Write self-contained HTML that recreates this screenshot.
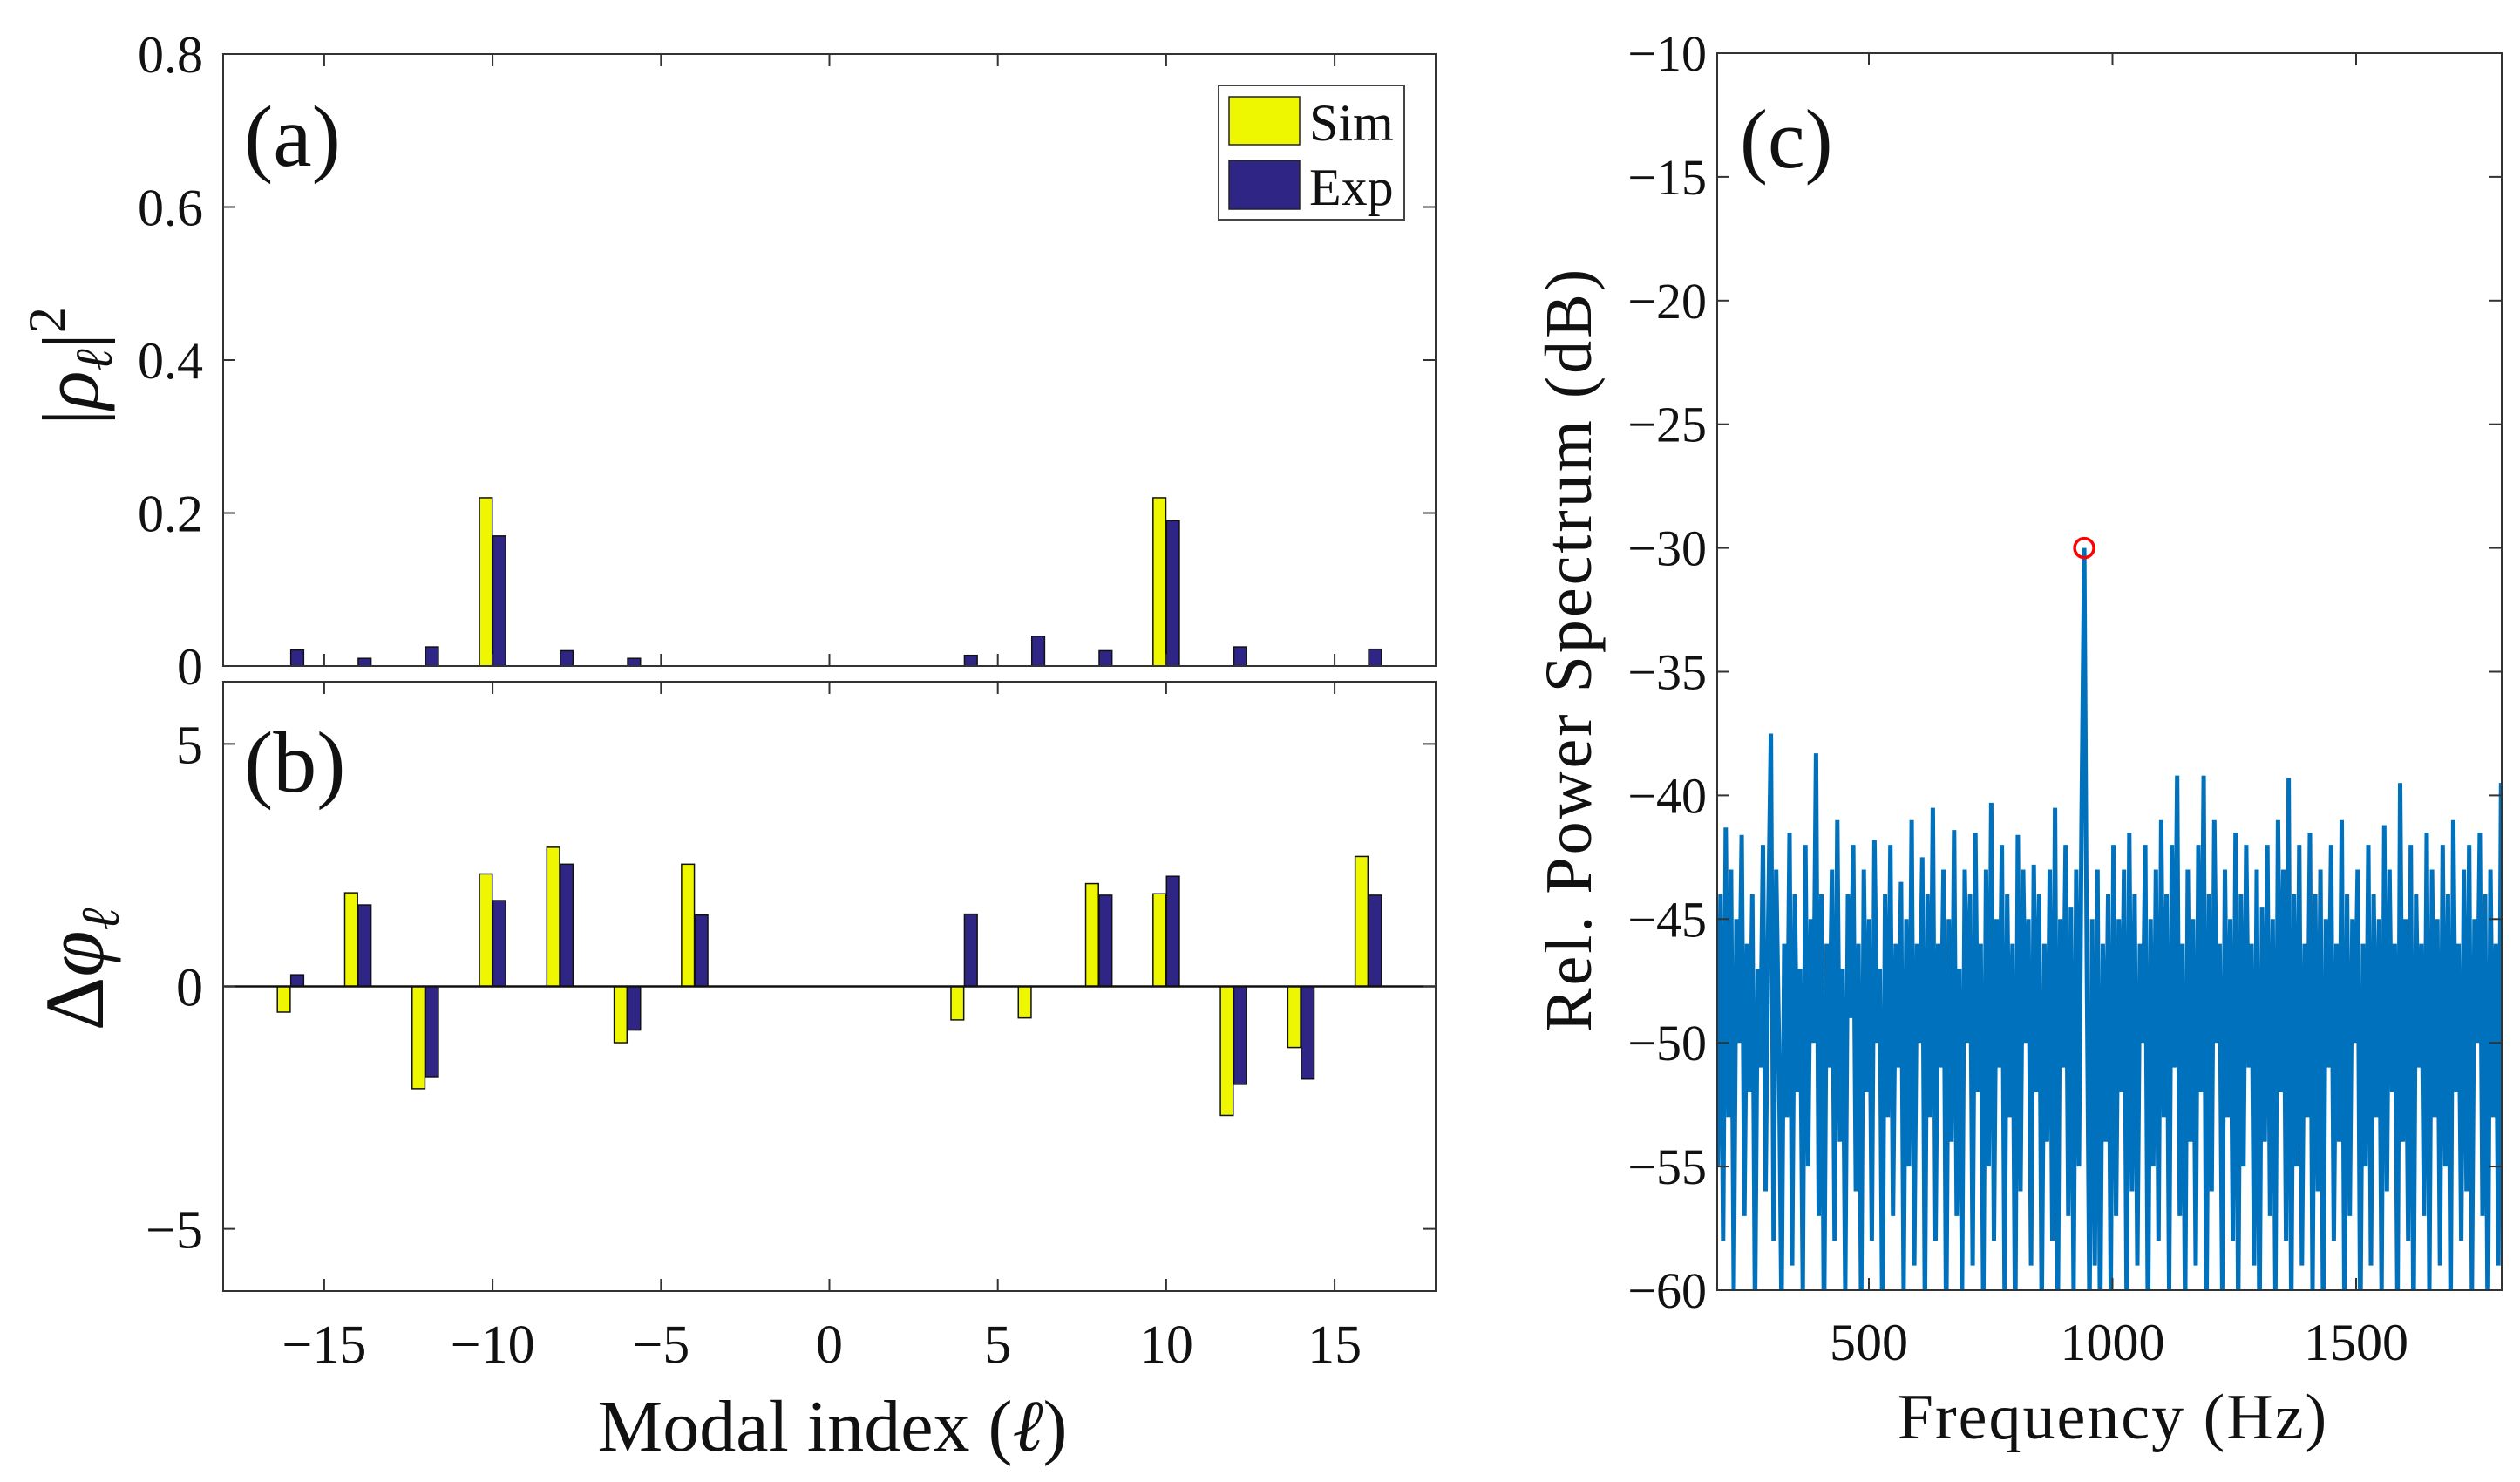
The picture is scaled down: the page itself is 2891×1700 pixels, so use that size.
<!DOCTYPE html>
<html><head><meta charset="utf-8">
<style>
html,body{margin:0;padding:0;background:#fff;}
svg{display:block;font-family:"Liberation Serif","DejaVu Serif",serif;}
</style></head>
<body>
<svg id="fig" width="2891" height="1700" viewBox="0 0 2891 1700" xmlns="http://www.w3.org/2000/svg">
<defs>
<clipPath id="clipC"><rect x="1970" y="61" width="900" height="1419"/></clipPath>
</defs>
<rect x="0" y="0" width="2891" height="1700" fill="#fff"/>
<g id="pa"></g>
<g id="pb"></g>
<g id="pc"></g>
</svg>
<script>
// ---- Panel (a)/(b) data ----
const modes = [-16,-14,-12,-10,-8,-6,-4,-2,0,2,4,6,8,10,12,14,16];
const simPow = [0,0,0,0.22,0,0,0,0,0,0,0,0,0,0.22,0,0,0];
const expPow = [0.021,0.01,0.025,0.17,0.02,0.01,0,0,0,0,0.014,0.039,0.02,0.19,0.025,0,0.022];
const simPhase = [-0.53,1.93,-2.11,2.32,2.87,-1.16,2.52,0,0,0,-0.69,-0.65,2.12,1.91,-2.66,-1.26,2.68];
const expPhase = [0.24,1.68,-1.86,1.77,2.52,-0.90,1.47,0,0,0,1.49,0,1.88,2.27,-2.02,-1.91,1.88];
const xTicks = [-15,-10,-5,0,5,10,15];
const aTicks = [0,0.2,0.4,0.6,0.8];
const aTickLabels = ["0","0.2","0.4","0.6","0.8"];
const bTicks = [-5,0,5];
const bTickLabels = ["\u22125","0","5"];
// ---- Panel (c) data ----
const specStartHz = 190;
const specStepHz = 5.449;
const cTicksX = [500,1000,1500];
const cTicksY = [-10,-15,-20,-25,-30,-35,-40,-45,-50,-55,-60];
const peakHz = [942];
const peakDb = [-30];
const specDb = [
-55,-44,-58,-41.3,-53,-43,-60,-45,-50,-41.6,-57,-46,-52,-44,-61,-47,-51,-42,-56,-45,
-37.5,-58,-43,-50,-61,-46,-53,-41.5,-59,-44,-52,-47,-60,-42,-55,-45,-50,-38.3,-57,-44,
-62,-46,-51,-43,-58,-41,-54,-47,-60,-44,-49,-42,-56,-46,-61,-43,-52,-45,-58,-41.8,
-50,-47,-62,-44,-53,-42,-57,-46,-51,-43.5,-60,-45,-55,-41,-59,-46,-50,-42.5,-61,-44,
-53,-40.5,-58,-46,-51,-43,-62,-45,-54,-41.4,-57,-47,-60,-43,-50,-44,-59,-41.5,-52,-46,
-61,-43,-55,-40.3,-58,-45,-51,-42,-60,-44,-53,-46,-62,-41.6,-56,-43,-50,-45,-59,-42.8,
-52,-44,-61,-46,-54,-43,-58,-40.5,-62,-45,-51,-42,-57,-44.5,-60,-43,-55,-41,-30,-47,
-61,-45,-59,-43,-62,-46,-54,-44,-60,-42,-57,-45,-52,-43,-61,-41.5,-56,-44,-59,-46,
-50,-42,-62,-45,-55,-43,-58,-41,-53,-44,-60,-42,-51,-39.2,-57,-46,-61,-43,-54,-45,
-59,-42,-52,-39.2,-62,-44,-56,-41,-50,-46,-60,-43,-53,-45,-58,-41.5,-61,-44,-55,-42,
-51,-46,-59,-43,-62,-44.5,-54,-42,-57,-45,-60,-41,-52,-43,-58,-39.3,-61,-44,-55,-42,
-59,-46,-53,-41.5,-60,-44,-56,-43,-62,-45,-51,-42,-58,-46,-54,-41,-61,-44,-57,-45,
-50,-43,-62,-46,-55,-42,-59,-44,-53,-45,-60,-41.2,-56,-43,-52,-46,-61,-39.5,-54,-45,
-58,-42,-62,-44,-51,-46,-57,-41.5,-60,-43,-53,-45,-59,-42,-55,-44,-61,-41,-52,-46,
-58,-43,-56,-42,-60,-45,-50,-41.5,-57,-44,-62,-43,-53,-46,-59,-39.5,-54,-44,-52,-48
];
</script>
<script>
const NS = "http://www.w3.org/2000/svg";
function mk(parent, tag, attrs, text){
  const e = document.createElementNS(NS, tag);
  for (const k in attrs) e.setAttribute(k, attrs[k]);
  if (text !== undefined) e.textContent = text;
  parent.appendChild(e);
  return e;
}
const YEL = "#eef700", BLU = "#2e2585";
const AX_L = 256, AX_R = 1647;
const xS = v => AX_L + (v + 18) / 36 * (AX_R - AX_L);
const aTop = 62, aBot = 764;
const yA = v => aBot - v / 0.8 * (aBot - aTop);
const bTop = 782, bBot = 1481;
const yB = v => (bTop + bBot) / 2 - v / (2 * Math.PI) * ((bBot - bTop) / 2);
const BW = 0.38, OFF = 0.2;

// ---------- Panel A ----------
const pa = document.getElementById('pa');
for (let i = 0; i < modes.length; i++) {
  [[simPow[i], -OFF, YEL, 'sim'], [expPow[i], OFF, BLU, 'exp']].forEach(([v, o, c, s]) => {
    const x0 = xS(modes[i] + o - BW / 2), x1 = xS(modes[i] + o + BW / 2);
    const y0 = yA(v);
    const r = mk(pa, 'rect', {x: x0, y: Math.min(y0, aBot), width: x1 - x0, height: Math.abs(aBot - y0), fill: c, stroke: '#111', 'stroke-width': 1.5});
    
    
  });
}
const pABox = mk(pa, 'rect', {x: AX_L, y: aTop, width: AX_R - AX_L, height: aBot - aTop, fill: 'none', stroke: '#333', 'stroke-width': 2});


xTicks.forEach(t => {
  mk(pa, 'line', {x1: xS(t), x2: xS(t), y1: aBot, y2: aBot - 14, stroke: '#333', 'stroke-width': 2});
  mk(pa, 'line', {x1: xS(t), x2: xS(t), y1: aTop, y2: aTop + 14, stroke: '#333', 'stroke-width': 2});
});
aTicks.forEach((t, i) => {
  mk(pa, 'line', {x1: AX_L, x2: AX_L + 14, y1: yA(t), y2: yA(t), stroke: '#333', 'stroke-width': 2});
  mk(pa, 'line', {x1: AX_R, x2: AX_R - 14, y1: yA(t), y2: yA(t), stroke: '#333', 'stroke-width': 2});
  const tl = mk(pa, 'text', {x: 233, y: yA(t) + 21, 'font-size': 60, 'text-anchor': 'end', fill: '#111'}, aTickLabels[i]);
  
  
});
const aLab = mk(pa, 'text', {x: 0, y: 0, 'font-size': 92, 'text-anchor': 'middle', fill: '#111', transform: 'translate(112,420) rotate(-90)'});


aLab.innerHTML = '|<tspan font-style="italic">ρ</tspan><tspan font-size="60" font-style="italic" dy="16">ℓ</tspan><tspan dy="-16">|</tspan><tspan font-size="60" dy="-38">2</tspan>';
const aPanel = mk(pa, 'text', {x: 280, y: 190, 'font-size': 100, fill: '#111'}, '(a)');


// legend
const lg = mk(pa, 'g', {});


mk(lg, 'rect', {x: 1398, y: 98, width: 213, height: 154, fill: '#fff', stroke: '#444', 'stroke-width': 2});
const ls1 = mk(lg, 'rect', {x: 1410, y: 111, width: 81, height: 55, fill: YEL, stroke: '#222', 'stroke-width': 1.5});


const lt1 = mk(lg, 'text', {x: 1502, y: 161, 'font-size': 60, fill: '#111'}, 'Sim');


const ls2 = mk(lg, 'rect', {x: 1410, y: 184, width: 81, height: 56, fill: BLU, stroke: '#222', 'stroke-width': 1.5});


const lt2 = mk(lg, 'text', {x: 1502, y: 235, 'font-size': 60, fill: '#111'}, 'Exp');



// ---------- Panel B ----------
const pb = document.getElementById('pb');
const y0b = yB(0);
for (let i = 0; i < modes.length; i++) {
  [[simPhase[i], -OFF, YEL, 'sim'], [expPhase[i], OFF, BLU, 'exp']].forEach(([v, o, c, s]) => {
    if (v === 0) return;
    const x0 = xS(modes[i] + o - BW / 2), x1 = xS(modes[i] + o + BW / 2);
    const yv = yB(v);
    const r = mk(pb, 'rect', {x: x0, y: Math.min(yv, y0b), width: x1 - x0, height: Math.abs(yv - y0b), fill: c, stroke: '#111', 'stroke-width': 1.5});
    
    
  });
}
const zl = mk(pb, 'line', {x1: AX_L, x2: AX_R, y1: y0b, y2: y0b, stroke: '#111', 'stroke-width': 2.5});


const pBBox = mk(pb, 'rect', {x: AX_L, y: bTop, width: AX_R - AX_L, height: bBot - bTop, fill: 'none', stroke: '#333', 'stroke-width': 2});


xTicks.forEach(t => {
  mk(pb, 'line', {x1: xS(t), x2: xS(t), y1: bBot, y2: bBot - 14, stroke: '#333', 'stroke-width': 2});
  mk(pb, 'line', {x1: xS(t), x2: xS(t), y1: bTop, y2: bTop + 14, stroke: '#333', 'stroke-width': 2});
  const tl = mk(pb, 'text', {x: xS(t), y: 1563, 'font-size': 62, 'text-anchor': 'middle', fill: '#111'}, t < 0 ? '\u2212' + (-t) : String(t));
  
  
});
bTicks.forEach((t, i) => {
  mk(pb, 'line', {x1: AX_L, x2: AX_L + 14, y1: yB(t), y2: yB(t), stroke: '#333', 'stroke-width': 2});
  mk(pb, 'line', {x1: AX_R, x2: AX_R - 14, y1: yB(t), y2: yB(t), stroke: '#333', 'stroke-width': 2});
  const tl = mk(pb, 'text', {x: 233, y: yB(t) + 22, 'font-size': 62, 'text-anchor': 'end', fill: '#111'}, bTickLabels[i]);
  
  
});
const bLab = mk(pb, 'text', {x: 0, y: 0, 'font-size': 96, 'text-anchor': 'middle', fill: '#111', transform: 'translate(118,1112) rotate(-90)'});


bLab.innerHTML = 'Δ<tspan font-style="italic">φ</tspan><tspan font-size="62" font-style="italic" dy="18">ℓ</tspan>';
const bPanel = mk(pb, 'text', {x: 280, y: 908, 'font-size': 100, fill: '#111'}, '(b)');


const xLab = mk(pb, 'text', {x: 955, y: 1664, 'font-size': 84, 'text-anchor': 'middle', fill: '#111'});


xLab.innerHTML = 'Modal index (<tspan font-style="italic">ℓ</tspan>)';

// ---------- Panel C ----------
const pc = document.getElementById('pc');
const CL = 1970, CR = 2870, CT = 61, CB = 1480;
const xC = f => 2144 + (f - 500) * 0.559;
const yC = d => CT + (-10 - d) / 50 * (CB - CT);
let dstr = '';
specDb.forEach((d, i) => {
  const f = specStartHz + i * specStepHz;
  dstr += (i ? 'L' : 'M') + xC(f).toFixed(1) + ',' + yC(d).toFixed(1);
});
const line = mk(pc, 'path', {d: dstr, fill: 'none', stroke: '#0072bd', 'stroke-width': 5, 'stroke-linejoin': 'miter', 'clip-path': 'url(#clipC)'});


const pk = mk(pc, 'circle', {cx: xC(peakHz[0]), cy: yC(peakDb[0]), r: 11, fill: 'none', stroke: '#f00', 'stroke-width': 3.5});


const pCBox = mk(pc, 'rect', {x: CL, y: CT, width: CR - CL, height: CB - CT, fill: 'none', stroke: '#333', 'stroke-width': 2});


cTicksX.forEach(t => {
  mk(pc, 'line', {x1: xC(t), x2: xC(t), y1: CB, y2: CB - 14, stroke: '#333', 'stroke-width': 2});
  mk(pc, 'line', {x1: xC(t), x2: xC(t), y1: CT, y2: CT + 14, stroke: '#333', 'stroke-width': 2});
  const tl = mk(pc, 'text', {x: xC(t), y: 1560, 'font-size': 60, 'text-anchor': 'middle', fill: '#111'}, String(t));
  
  
});
cTicksY.forEach(t => {
  mk(pc, 'line', {x1: CL, x2: CL + 14, y1: yC(t), y2: yC(t), stroke: '#333', 'stroke-width': 2});
  mk(pc, 'line', {x1: CR, x2: CR - 14, y1: yC(t), y2: yC(t), stroke: '#333', 'stroke-width': 2});
  const tl = mk(pc, 'text', {x: 1958, y: yC(t) + 20, 'font-size': 58, 'text-anchor': 'end', fill: '#111'}, '\u2212' + (-t));
  
  
});
const cLab = mk(pc, 'text', {x: 0, y: 0, 'font-size': 76, 'text-anchor': 'middle', fill: '#111', 'letter-spacing': 3, transform: 'translate(1825,745) rotate(-90)'}, 'Rel. Power Spectrum (dB)');


const cX = mk(pc, 'text', {x: 2424, y: 1650, 'font-size': 74, 'text-anchor': 'middle', fill: '#111', 'letter-spacing': 2}, 'Frequency (Hz)');


const cPanel = mk(pc, 'text', {x: 1996, y: 192, 'font-size': 96, fill: '#111'}, '(c)');


</script>
</body></html>
